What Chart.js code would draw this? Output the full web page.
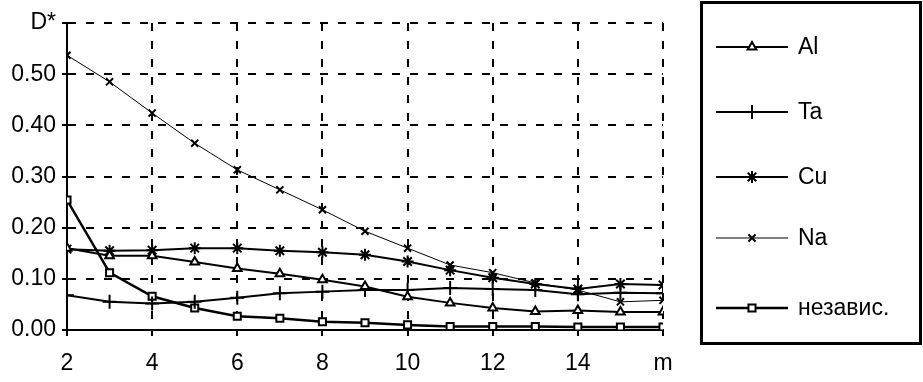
<!DOCTYPE html>
<html>
<head>
<meta charset="utf-8">
<script src="https://cdn.jsdelivr.net/npm/chart.js@4/dist/chart.umd.min.js"></script>
<style>
  html, body { margin: 0; padding: 0; background: #fff; }
  #wrap { width: 923px; height: 382px; position: relative; }
</style>
</head>
<body>
<div id="wrap"><canvas id="chart"></canvas></div>
<script>
// m values along the x axis
const mValues = [2, 3, 4, 5, 6, 7, 8, 9, 10, 11, 12, 13, 14, 15, 16];
const xTickLabels = { 16: 'm' };
const yTopLabel = 'D*';

// D*
const alValues = [0.160, 0.145, 0.145, 0.133, 0.120, 0.110, 0.098, 0.085, 0.065, 0.053, 0.043, 0.036, 0.038, 0.035, 0.035];
const taValues = [0.068, 0.055, 0.052, 0.055, 0.063, 0.072, 0.075, 0.078, 0.078, 0.082, 0.080, 0.078, 0.070, 0.073, 0.072];
const cuValues = [0.158, 0.155, 0.156, 0.160, 0.160, 0.155, 0.152, 0.147, 0.134, 0.117, 0.102, 0.090, 0.080, 0.090, 0.088];
const naValues = [0.537, 0.485, 0.424, 0.365, 0.313, 0.274, 0.235, 0.193, 0.160, 0.127, 0.112, 0.092, 0.078, 0.055, 0.058];
const indepValues = [0.254, 0.112, 0.066, 0.043, 0.027, 0.023, 0.016, 0.014, 0.010, 0.007, 0.007, 0.007, 0.006, 0.006, 0.006];

const seriesNames = ['Al', 'Ta', 'Cu', 'Na', 'независ.'];

const FONT = '"Liberation Sans Narrow", "Liberation Sans", Arial, sans-serif';

function pts(vals) {
    return vals.map((v, i) => ({ x: mValues[i], y: v }));
}

function makeSet(label, vals, style, radius, width, fill) {
    return {
        label: label,
        data: pts(vals),
        borderColor: '#000',
        borderWidth: width,
        pointStyle: style,
        pointRadius: radius,
        pointBorderWidth: 2,
        pointBackgroundColor: fill,
        pointBorderColor: '#000',
        tension: 0
    };
}

// legend drawn by hand: box, short line with marker, name
const boxLegend = {
    id: 'boxLegend',
    afterDraw(chart) {
        const ctx = chart.ctx;
        ctx.save();
        ctx.strokeStyle = '#000';
        ctx.lineWidth = 3;
        ctx.strokeRect(701.5, 2.5, 219, 341);
        const rows = [47, 112, 177, 238, 308];
        chart.data.datasets.forEach((ds, i) => {
            const y = rows[i];
            ctx.strokeStyle = '#000';
            ctx.lineWidth = ds.borderWidth;
            ctx.beginPath();
            ctx.moveTo(716, y);
            ctx.lineTo(788, y);
            ctx.stroke();
            ctx.fillStyle = ds.pointBackgroundColor;
            ctx.lineWidth = ds.pointBorderWidth;
            Chart.helpers.drawPoint(ctx, {
                pointStyle: ds.pointStyle,
                radius: ds.pointRadius,
                borderWidth: ds.pointBorderWidth,
                rotation: 0
            }, 752, y);
            ctx.fillStyle = '#000';
            ctx.font = '23px ' + FONT;
            ctx.textBaseline = 'middle';
            ctx.fillText(ds.label, 798, y + 1);
        });
        ctx.restore();
    }
};

new Chart(document.getElementById('chart'), {
    type: 'line',
    data: {
        datasets: [
            makeSet(seriesNames[0], alValues, 'triangle', 5, 2, '#fff'),
            makeSet(seriesNames[1], taValues, 'cross', 7, 2, '#000'),
            makeSet(seriesNames[2], cuValues, 'star', 6, 2, '#000'),
            makeSet(seriesNames[3], naValues, 'crossRot', 5, 1, '#000'),
            makeSet(seriesNames[4], indepValues, 'rect', 5, 2.5, '#fff')
        ]
    },
    options: {
        responsive: true,
        maintainAspectRatio: false,
        animation: false,
        layout: { padding: { left: 0, right: 260, top: 23, bottom: 0 } },
        plugins: { legend: { display: false }, tooltip: { enabled: false } },
        scales: {
            x: {
                type: 'linear',
                min: 2,
                max: 16,
                ticks: {
                    stepSize: 2,
                    color: '#000',
                    font: { family: FONT, size: 23 },
                    padding: 14,
                    maxRotation: 0,
                    callback: (v) => xTickLabels[v] || String(v)
                },
                grid: { color: '#000', lineWidth: 2, tickLength: 6, tickBorderDash: [] },
                border: { display: true, color: '#000', width: 2, dash: [8, 10] },
                afterFit: (s) => { s.height = 52; }
            },
            y: {
                min: 0,
                max: 0.6,
                ticks: {
                    stepSize: 0.1,
                    color: '#000',
                    font: { family: FONT, size: 23 },
                    padding: 6,
                    callback: (v) => Math.abs(v - 0.6) < 1e-6 ? yTopLabel : v.toFixed(2)
                },
                grid: { color: '#000', lineWidth: 2, tickLength: 5, tickBorderDash: [] },
                border: { display: true, color: '#000', width: 2, dash: [8, 10] },
                afterFit: (s) => { s.width = 67; }
            }
        }
    },
    plugins: [boxLegend]
});
</script>
</body>
</html>
